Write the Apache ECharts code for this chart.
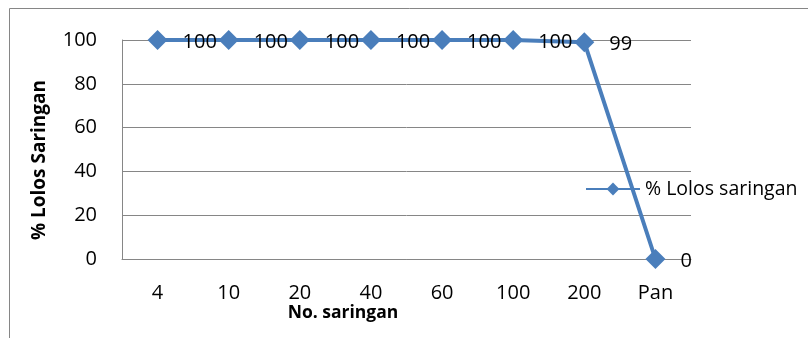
<!DOCTYPE html>
<html>
<head>
<meta charset="utf-8">
<script src="https://cdn.jsdelivr.net/npm/echarts@6/dist/echarts.min.js"></script>
<style>
html,body{margin:0;padding:0;background:#fff;}
#chart{width:808px;height:338px;}
</style>
</head>
<body>
<div id="chart"></div>
<script>
// Sieve numbers and cumulative percent passing
const categories = ['4', '10', '20', '40', '60', '100', '200', 'Pan'];
const passing = [100, 100, 100, 100, 100, 100, 99, 0];
const yTicks = [0, 20, 40, 60, 80, 100];
const seriesName = '% Lolos saringan';

const FONT = '"Open Sans", "Liberation Sans", sans-serif';
const chart = echarts.init(document.getElementById('chart'));
chart.setOption({
  animation: false,
  backgroundColor: '#fff',
  grid: { left: 122, right: 117, top: 40, bottom: 79 },
  legend: {
    data: [{ name: seriesName }],
    left: 580, top: 174,
    itemWidth: 54, itemHeight: 16, itemGap: 4,
    textStyle: { fontFamily: FONT, fontSize: 19.5, color: '#000' }
  },
  xAxis: {
    type: 'category',
    data: categories,
    boundaryGap: true,
    axisLine: { lineStyle: { color: '#868686', width: 1 } },
    axisTick: { show: false },
    axisLabel: { fontFamily: FONT, fontSize: 20, color: '#000', margin: 24 }
  },
  yAxis: {
    type: 'value',
    min: yTicks[0], max: yTicks[yTicks.length - 1], interval: 20,
    axisLine: { show: true, lineStyle: { color: '#868686', width: 1 } },
    axisTick: { show: false },
    splitLine: { lineStyle: { color: '#868686', width: 1 } },
    axisLabel: { fontFamily: FONT, fontSize: 20, color: '#000', margin: 25 }
  },
  series: [{
    name: seriesName,
    type: 'line',
    data: passing,
    symbol: 'diamond',
    symbolSize: 20,
    itemStyle: { color: '#4A7EBB' },
    lineStyle: { color: '#4A7EBB', width: 4 },
    label: {
      show: true, position: 'right', distance: 15, offset: [0, 2],
      fontFamily: FONT, fontSize: 20, color: '#000'
    }
  }],
  graphic: [
    { type: 'rect', shape: { x: 9.5, y: 8.5, width: 820, height: 360 },
      style: { fill: 'none', stroke: '#868686', lineWidth: 1 }, silent: true },
    { type: 'text', x: 40, y: 160, rotation: Math.PI / 2,
      style: { text: '% Lolos Saringan', font: 'bold 19px ' + FONT, fill: '#000',
               textAlign: 'center', textVerticalAlign: 'middle' } },
    { type: 'text', x: 343, y: 313,
      style: { text: 'No. saringan', font: 'bold 17.5px ' + FONT, fill: '#000',
               textAlign: 'center', textVerticalAlign: 'middle' } }
  ]
});
</script>
</body>
</html>
